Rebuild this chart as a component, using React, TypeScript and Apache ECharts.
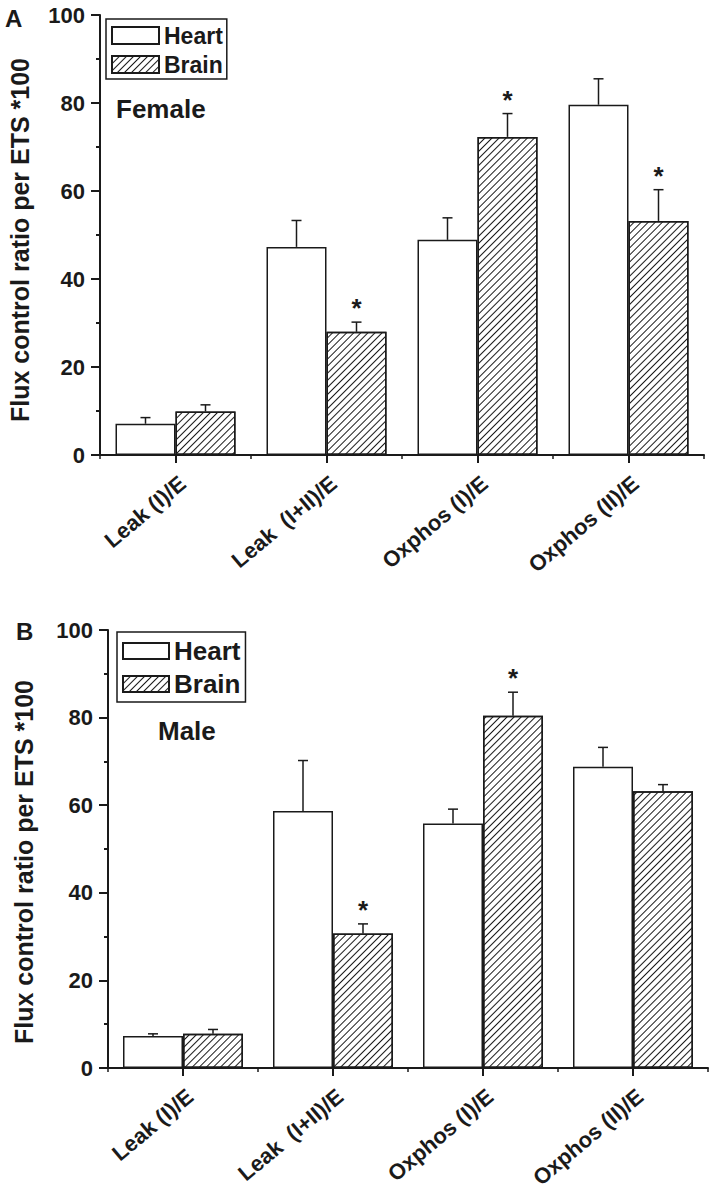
import React, { useEffect, useRef } from "react";
import * as echarts from "echarts";

const categories = ["Leak (I)/E", "Leak  (I+II)/E", "Oxphos (I)/E", "Oxphos (II)/E"];
const yTicks = [0, 20, 40, 60, 80, 100];
const femaleHeart = [7.1, 47.3, 48.9, 79.6];
const femaleHeartErr = [1.4, 6.0, 5.0, 5.9];
const femaleBrain = [9.9, 28.0, 72.3, 53.2];
const femaleBrainErr = [1.5, 2.2, 5.3, 7.1];
const femaleBrainSig = [0, 1, 1, 1];
const maleHeart = [7.3, 58.7, 55.8, 68.8];
const maleHeartErr = [0.5, 11.5, 3.3, 4.4];
const maleBrain = [7.8, 30.7, 80.4, 63.2];
const maleBrainErr = [1.0, 2.2, 5.4, 1.5];
const maleBrainSig = [0, 1, 1, 0];

const FONT = "'Liberation Sans', Arial, sans-serif";
const INK = "#1a1a1a";
const BAR_W = 60;

const decal = {
  symbol: "rect",
  symbolSize: 1,
  color: INK,
  dashArrayX: [1, 0],
  dashArrayY: [1, 3.6],
  rotation: -Math.PI / 4,
};

function errData(vals: number[], errs: number[], sig: number[] | null, off: number) {
  return vals.map((v, i) => [i, v, errs[i], sig ? sig[i] : 0, off]);
}

function renderErr(params: any, api: any) {
  const x = api.value(0);
  const v = api.value(1);
  const e = api.value(2);
  const sig = api.value(3);
  const off = api.value(4);
  const base = api.coord([x, v]);
  const top = api.coord([x, v + e]);
  const cx = base[0] + off;
  const st = { stroke: INK, lineWidth: 1.5 };
  const children: any[] = [
    { type: "line", shape: { x1: cx, y1: base[1], x2: cx, y2: top[1] }, style: st },
    { type: "line", shape: { x1: cx - 5, y1: top[1], x2: cx + 5, y2: top[1] }, style: st },
  ];
  if (sig) {
    children.push({
      type: "text",
      x: cx,
      y: top[1] - 27,
      style: {
        text: "*",
        fill: INK,
        font: `bold 26px ${FONT}`,
        align: "center",
        verticalAlign: "top",
      },
    });
  }
  return { type: "group", children };
}

function yAxis(gridIndex: number) {
  return {
    type: "value",
    gridIndex,
    min: yTicks[0],
    max: yTicks[yTicks.length - 1],
    interval: 20,
    axisLine: { show: true, lineStyle: { color: INK, width: 2 } },
    axisTick: { show: true, length: 9, lineStyle: { color: INK, width: 2 } },
    minorTick: { show: true, splitNumber: 2, length: 4, lineStyle: { color: INK, width: 2 } },
    splitLine: { show: false },
    axisLabel: { color: INK, fontFamily: FONT, fontWeight: "bold", fontSize: 22, margin: 15 },
  };
}

function xAxisMain(gridIndex: number) {
  return {
    type: "category",
    gridIndex,
    position: "bottom",
    data: categories,
    axisLine: { show: true, lineStyle: { color: INK, width: 2 } },
    axisTick: { show: true, length: 4, alignWithLabel: false, lineStyle: { color: INK, width: 1.5 } },
    axisLabel: {
      color: INK,
      fontFamily: FONT,
      fontWeight: "bold",
      fontSize: 22,
      rotate: 40,
      interval: 0,
      margin: 17,
      align: "right",
      verticalAlign: "top",
    },
    splitLine: { show: false },
  };
}

function xAxisTicks(gridIndex: number) {
  return {
    type: "category",
    gridIndex,
    position: "bottom",
    data: categories,
    axisLine: { show: false },
    axisTick: { show: true, length: 8, alignWithLabel: true, lineStyle: { color: INK, width: 2 } },
    axisLabel: { show: false },
    splitLine: { show: false },
  };
}

function legend(left: number, top: number, fontSize: number, itemW: number, itemH: number, gap: number, padding: number[]) {
  return {
    left,
    top,
    orient: "vertical",
    data: ["Heart", "Brain"],
    icon: "rect",
    itemWidth: itemW,
    itemHeight: itemH,
    itemGap: gap,
    padding,
    borderColor: INK,
    borderWidth: 1.5,
    selectedMode: false,
    textStyle: { color: INK, fontFamily: FONT, fontWeight: "bold", fontSize, lineHeight: fontSize },
  };
}

export default function App() {
  const ref = useRef<HTMLDivElement>(null);
  useEffect(() => {
    if (!ref.current) return;
    const chart = echarts.init(ref.current, null, { renderer: "svg" });
    const barStyle = { color: "#fff", borderColor: INK, borderWidth: 1.5 };
    const brainStyle = { color: "#fff", borderColor: INK, borderWidth: 1.5, decal };
    const option: any = {
      animation: false,
      backgroundColor: "#fff",
      grid: [
        { left: 100, top: 15, width: 604, height: 440 },
        { left: 108, top: 630, width: 600, height: 438 },
      ],
      xAxis: [xAxisMain(0), xAxisTicks(0), xAxisMain(1), xAxisTicks(1)],
      yAxis: [yAxis(0), yAxis(1)],
      legend: [
        legend(106, 19, 23, 47, 17, 6, [5, 4, 3, 5]),
        legend(117, 632, 26, 46, 16, 7, [6, 5, 5, 5]),
      ],
      series: [
        { name: "Heart", type: "bar", xAxisIndex: 0, yAxisIndex: 0, data: femaleHeart, barWidth: BAR_W, barGap: "0%", itemStyle: barStyle },
        { name: "Brain", type: "bar", xAxisIndex: 0, yAxisIndex: 0, data: femaleBrain, barWidth: BAR_W, barGap: "0%", itemStyle: brainStyle },
        { name: "Heart", type: "bar", xAxisIndex: 2, yAxisIndex: 1, data: maleHeart, barWidth: BAR_W, barGap: "0%", itemStyle: barStyle },
        { name: "Brain", type: "bar", xAxisIndex: 2, yAxisIndex: 1, data: maleBrain, barWidth: BAR_W, barGap: "0%", itemStyle: brainStyle },
        { type: "custom", xAxisIndex: 0, yAxisIndex: 0, z: 5, renderItem: renderErr, data: errData(femaleHeart, femaleHeartErr, null, -BAR_W / 2) },
        { type: "custom", xAxisIndex: 0, yAxisIndex: 0, z: 5, renderItem: renderErr, data: errData(femaleBrain, femaleBrainErr, femaleBrainSig, BAR_W / 2) },
        { type: "custom", xAxisIndex: 2, yAxisIndex: 1, z: 5, renderItem: renderErr, data: errData(maleHeart, maleHeartErr, null, -BAR_W / 2) },
        { type: "custom", xAxisIndex: 2, yAxisIndex: 1, z: 5, renderItem: renderErr, data: errData(maleBrain, maleBrainErr, maleBrainSig, BAR_W / 2) },
      ],
      graphic: [
        { type: "text", left: 5, top: 6, style: { text: "A", fill: INK, font: `bold 24px ${FONT}` } },
        { type: "text", left: 16, top: 619, style: { text: "B", fill: INK, font: `bold 24px ${FONT}` } },
        { type: "text", left: 116, top: 96, style: { text: "Female", fill: INK, font: `bold 26px ${FONT}` } },
        { type: "text", left: 158, top: 718, style: { text: "Male", fill: INK, font: `bold 26px ${FONT}` } },
        {
          type: "text",
          x: 20,
          y: 240,
          rotation: Math.PI / 2,
          style: { text: "Flux control ratio per ETS *100", fill: INK, font: `bold 25px ${FONT}`, align: "center", verticalAlign: "middle" },
        },
        {
          type: "text",
          x: 24,
          y: 862,
          rotation: Math.PI / 2,
          style: { text: "Flux control ratio per ETS *100", fill: INK, font: `bold 25px ${FONT}`, align: "center", verticalAlign: "middle" },
        },
      ],
    };
    chart.setOption(option);
    return () => chart.dispose();
  }, []);
  return <div ref={ref} style={{ position: "absolute", left: 0, top: 0, width: 709, height: 1194 }} />;
}
